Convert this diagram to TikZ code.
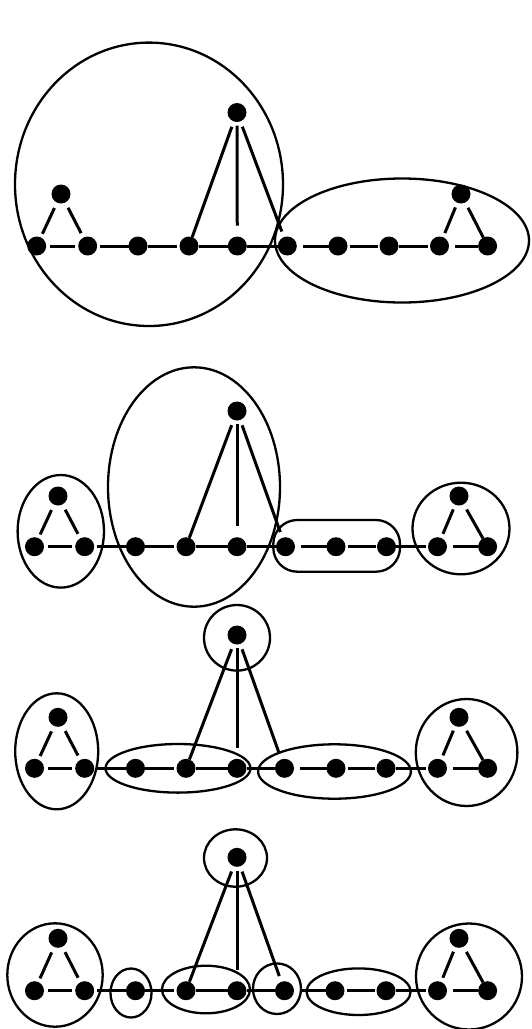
\documentclass[tikz,border=0pt]{standalone}
\usetikzlibrary{shapes.geometric}
\tikzset{
  vtx/.style={circle, fill=black, inner sep=0pt, outer sep=0pt, minimum size=19pt},
  edge/.style={line width=3pt},
  gp/.style 2 args={shorten <=#1pt, shorten >=#2pt},
  grp/.style={line width=2.3pt},
}
% #1 prefix, #2 path y, #3 list of 10 x, #4 left apex x, #5 right apex x, #6 triangle apex y, #7 centre apex y
\newcommand{\grph}[7]{%
  \foreach \xx [count=\i] in {#3} { \node[vtx] (#1-\i) at (\xx,#2) {}; }
  \node[vtx] (#1-L) at (#4,#6) {};
  \node[vtx] (#1-R) at (#5,#6) {};
  \node[vtx] (#1-T) at (237,#7) {};
  \draw[edge, gp={3.5}{3.5}] (#1-1) -- (#1-2);
  \draw[edge, gp={2.5}{0}] (#1-2) -- (#1-3);
  \draw[edge, gp={0}{3}] (#1-3) -- (#1-4);
  \draw[edge, gp={0}{0}] (#1-4) -- (#1-5);
  \draw[edge, gp={0}{0}] (#1-5) -- (#1-6);
  \draw[edge, gp={6}{0}] (#1-6) -- (#1-7);
  \draw[edge, gp={2.5}{1.5}] (#1-7) -- (#1-8);
  \draw[edge, gp={0}{2}] (#1-8) -- (#1-9);
  \draw[edge, gp={6}{0}] (#1-9) -- (#1-10);
  \draw[edge, gp={6}{4}] (#1-L) -- (#1-1);
  \draw[edge, gp={6}{5}] (#1-L) -- (#1-2);
  \draw[edge, gp={5}{4.5}] (#1-R) -- (#1-9);
  \draw[edge, gp={6}{0}] (#1-R) -- (#1-10);
  \draw[edge, gp={5.7}{0}] (#1-T) -- (#1-4);
  \draw[edge, gp={3.7}{11}] (#1-T) -- (#1-5);
  \draw[edge, gp={5.7}{6}] (#1-T) -- (#1-6);
}
\begin{document}
\begin{tikzpicture}[x=1pt, y=-1pt]
\fill[white] (0,0) rectangle (531,1029);
\useasboundingbox (0,0) rectangle (531,1029);
\clip (0,0) rectangle (531,1029);

% panel 1
\grph{a}{246}{36.7,87.7,138,189,237.3,287.3,338,389,439.5,487.6}{61}{461}{194}{112.5}
\draw[grp] (149,184.3) ellipse [x radius=134, y radius=141.7];
\draw[grp] (402,240.5) ellipse [x radius=127, y radius=62];

% panel 2
\grph{b}{546.7}{34.5,84.7,135.5,186,237,285.5,336,386.5,437.5,487.6}{58}{459}{496}{411}
\draw[grp] (60.8,531.3) ellipse [x radius=43.2, y radius=56.3];
\draw[grp] (194,487) ellipse [x radius=86, y radius=119.7];
\draw[grp, rounded corners=24pt] (273.3,520) rectangle (400,571.7);
\draw[grp] (461,528.5) ellipse [x radius=48.5, y radius=45.8];

% panel 3
\grph{c}{768.3}{34.5,84.7,135.5,186,237,284.5,336,386,437.5,487.6}{58}{459}{717.3}{635}
\draw[grp] (56.7,751.3) ellipse [x radius=41.5, y radius=58];
\draw[grp] (237,637.8) ellipse [x radius=33, y radius=32.8];
\draw[grp] (178,768.3) ellipse [x radius=72.5, y radius=24.3];
\draw[grp] (334.5,771.5) ellipse [x radius=76.4, y radius=27.2];
\draw[grp] (466.6,752.5) ellipse [x radius=50.8, y radius=53.5];

% panel 4
\grph{d}{990.7}{34.5,84.7,135.5,186,237,284.5,335,386,437.5,487.6}{58}{459}{938.3}{857.3}
\draw[grp] (55,975) ellipse [x radius=47.7, y radius=51.7];
\draw[grp] (131,993) ellipse [x radius=20.5, y radius=24.5];
\draw[grp] (206,989.5) ellipse [x radius=44, y radius=23.8];
\draw[grp] (277,988.7) ellipse [x radius=24, y radius=25.3];
\draw[grp] (358.6,991.7) ellipse [x radius=52, y radius=23.3];
\draw[grp] (235.5,858) ellipse [x radius=31.5, y radius=28.7];
\draw[grp] (469,976.5) ellipse [x radius=53, y radius=53];
\end{tikzpicture}
\end{document}
